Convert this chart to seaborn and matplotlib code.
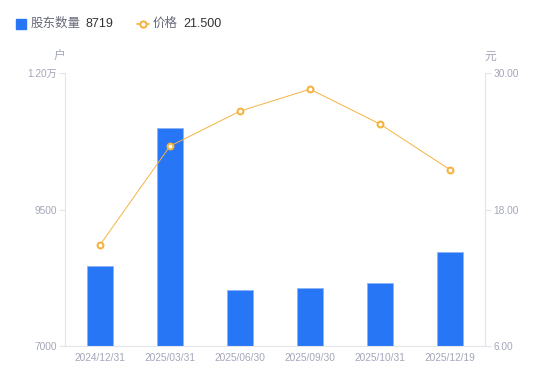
import pandas as pd
import numpy as np
from matplotlib import pyplot as plt
import seaborn as sns

# data
dates = ["2024/12/31", "2025/03/31", "2025/06/30", "2025/09/30", "2025/10/31", "2025/12/19"]
holders = [8465, 10990, 8025, 8060, 8155, 8719]
price = [14.88, 23.58, 26.66, 28.59, 25.52, 21.50]
left_ticks = [7000, 9500, 12000]
left_labels = ["7000", "9500", "1.20万"]
right_ticks = [6, 18, 30]
right_labels = ["6.00", "18.00", "30.00"]

df = pd.DataFrame({"date": dates, "holders": holders, "price": price})

sns.set_style("white")
plt.rcParams['font.family'] = ['Liberation Sans', 'Noto Sans CJK SC', 'DejaVu Sans']

blue = "#2776F5"
orange = "#F5B342"
grey = "#A3A6B8"
axis_col = "#E3E5EA"

fig = plt.figure(figsize=(5.5, 3.81), dpi=100)
ax = fig.add_axes([0.118, 0.092, 0.764, 0.716])

sns.barplot(data=df, x="date", y="holders", color=blue, width=0.36,
            saturation=1, ax=ax, edgecolor="#8DB4F8", linewidth=0.6)
ax.set_ylim(7000, 12000)
ax.set_xlim(-0.5, 5.5)
ax.set_yticks(left_ticks)
ax.set_yticklabels(left_labels)

ax2 = ax.twinx()
ax2.plot(range(len(dates)), df["price"], color=orange, linewidth=0.7,
         marker="o", markersize=4.2, markerfacecolor="white",
         markeredgecolor=orange, markeredgewidth=1.5)
ax2.set_ylim(6, 30)
ax2.set_yticks(right_ticks)
ax2.set_yticklabels(right_labels)

for a in (ax, ax2):
    for s in a.spines.values():
        s.set_visible(False)
    a.set_xlabel("")
    a.set_ylabel("")

ax.spines["left"].set_visible(True)
ax.spines["left"].set_color(axis_col)
ax.spines["bottom"].set_visible(True)
ax.spines["bottom"].set_color(axis_col)
ax2.spines["right"].set_visible(True)
ax2.spines["right"].set_color(axis_col)

ax.tick_params(axis="y", colors=axis_col, labelcolor=grey, labelsize=7.3,
               length=4, width=0.8, pad=2, left=True)
ax.tick_params(axis="x", length=0, labelcolor=grey, labelsize=7.3, pad=5)
ax2.tick_params(axis="y", colors=axis_col, labelcolor=grey, labelsize=7.3,
                length=4, width=0.8, pad=2, right=True)

# unit labels
fig.text(59 / 550, 1 - 57 / 381, "户", color=grey, fontsize=8.5, ha="center", va="center")
fig.text(490 / 550, 1 - 57 / 381, "元", color=grey, fontsize=8.5, ha="center", va="center")

# legend
ly = 1 - 24 / 381
fig.patches.append(plt.Rectangle((16 / 550, 1 - 29 / 381), 10 / 550, 10 / 381,
                                 transform=fig.transFigure, color=blue, figure=fig))
fig.text(31 / 550, ly, "股东数量", color="#666a78", fontsize=9, va="center")
fig.text(85 / 550, ly, "8719", color="#333333", fontsize=9, va="center")
fig.lines.append(plt.Line2D([137 / 550, 149 / 550], [ly, ly], color=orange, linewidth=1.2,
                            transform=fig.transFigure, figure=fig))
fig.lines.append(plt.Line2D([143 / 550], [ly], color=orange, marker="o", markersize=4.5,
                            markerfacecolor="white", markeredgewidth=1.5,
                            transform=fig.transFigure, figure=fig))
fig.text(153 / 550, ly, "价格", color="#666a78", fontsize=9, va="center")
fig.text(183 / 550, ly, "21.500", color="#333333", fontsize=9, va="center")

fig.savefig("out.png", dpi=100)
